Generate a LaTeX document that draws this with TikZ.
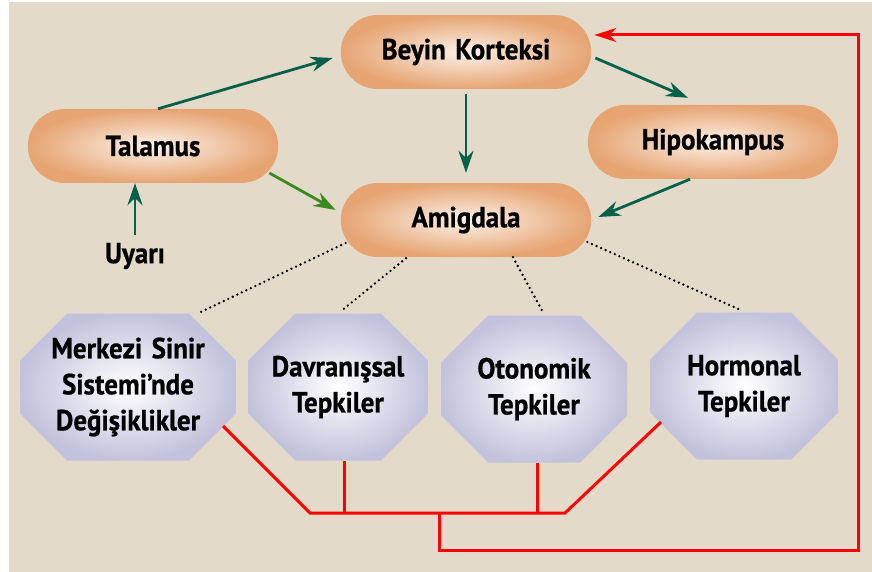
\documentclass[tikz,border=0pt]{standalone}
\usepackage{fontspec}
\setmainfont{PT Sans}[FakeStretch=0.93,WordSpace=1.4,BoldFeatures={FakeBold=0.8}]
\usetikzlibrary{shapes.misc,arrows.meta}
\definecolor{bgcol}{RGB}{228,218,201}
\definecolor{pillout}{RGB}{230,164,114}
\definecolor{pillin}{RGB}{252,242,234}
\definecolor{lavcol}{RGB}{195,194,220}
\definecolor{darkgreen}{RGB}{0,96,74}
\definecolor{lightgreen}{RGB}{58,138,34}
\begin{document}
\begin{tikzpicture}[x=1pt,y=-1pt,
  every node/.style={font=\fontsize{29}{36}\selectfont\bfseries},
  pill/.style={rounded rectangle,minimum width=257pt,minimum height=74pt,inner color=pillin,outer color=pillout},
  octo/.style={minimum width=#1,minimum height=147pt,inner sep=0pt,align=center,
    path picture={\shade[inner color=white,outer color=lavcol]
      ([shift={(47,0)}]path picture bounding box.north west) -- ([shift={(-47,0)}]path picture bounding box.north east)
      -- ([shift={(0,47)}]path picture bounding box.north east) -- ([shift={(0,-47)}]path picture bounding box.south east)
      -- ([shift={(-47,0)}]path picture bounding box.south east) -- ([shift={(47,0)}]path picture bounding box.south west)
      -- ([shift={(0,-47)}]path picture bounding box.south west) -- ([shift={(0,47)}]path picture bounding box.north west) -- cycle;}},
  grn/.style={draw=darkgreen,line width=2.8pt,-{Stealth[length=22pt,width=15pt]}},
  lgrn/.style={grn,draw=lightgreen},
  dots/.style={line width=2.6pt,line cap=round,dash pattern=on 0pt off 5pt},
  redline/.style={draw=red,line width=3pt}]
\useasboundingbox (0,0) rectangle (872,572);
\fill[bgcol] (9,2) rectangle (872,572);
\node[pill] (kortex) at (466,52) {Beyin Korteksi};
\node[pill] (talamus) at (153,146) {Talamus};
\node[pill] (hipo) at (713,142) {Hipokampus};
\node[pill] (amig) at (466,220) {Amigdala};
\node (uyari) at (135,256) {Uyarı};
\node[octo=216pt] (mss) at (128,387) {Merkezi Sinir\\Sistemi’nde\\Değişiklikler};
\node[octo=180pt] (davr) at (338,387) {Davranışsal\\Tepkiler};
\node[octo=186pt] (oto) at (534,389) {Otonomik\\Tepkiler};
\node[octo=188pt] (horm) at (744,386) {Hormonal\\Tepkiler};
\coordinate (b1) at (310,513);
\coordinate (b2) at (565,513);
\coordinate (b0) at (439,513);
\coordinate (r1) at (858,550);
\draw[grn] ([shift={(5,0)}]talamus.north) -- ([shift={(-8,6)}]kortex.west);
\draw[grn] ([shift={(4,6)}]kortex.east) -- ([shift={(-25,-7)}]hipo.north);
\draw[grn] ([shift={(0,5)}]kortex.south) -- ([shift={(0,-10)}]amig.north);
\draw[grn] ([shift={(-23,0)}]hipo.south) -- ([shift={(7,-3)}]amig.east);
\draw[lgrn] ([shift={(-9,27)}]talamus.east) -- ([shift={(-5,-10)}]amig.west);
\draw[grn] ([shift={(0,-21)}]uyari.center) -- (uyari.center |- talamus.south);
\draw[dots] ([shift={(5,23)}]amig.west) -- ([shift={(70,0)}]mss.north);
\draw[dots] ([shift={(-60,1)}]amig.south) -- ([shift={(4,-3)}]davr.north);
\draw[dots] ([shift={(47,0)}]amig.south) -- ([shift={(10,-1)}]oto.north);
\draw[dots] ([shift={(-4,22)}]amig.east) -- ([shift={(-5,-3)}]horm.north);
\draw[redline] ([shift={(95,39)}]mss.center) -- (b1) -- (b2) -- ([shift={(-83,36)}]horm.center);
\draw[redline] ([shift={(6,0)}]davr.south) -- ([shift={(6,0)}]davr.south |- b1);
\draw[redline] ([shift={(3,0)}]oto.south) -- ([shift={(3,0)}]oto.south |- b1);
\draw[redline,-{Stealth[length=22pt,width=14pt]}] (b0) |- (r1) |- ([shift={(3,-17)}]kortex.east);
\end{tikzpicture}
\end{document}
